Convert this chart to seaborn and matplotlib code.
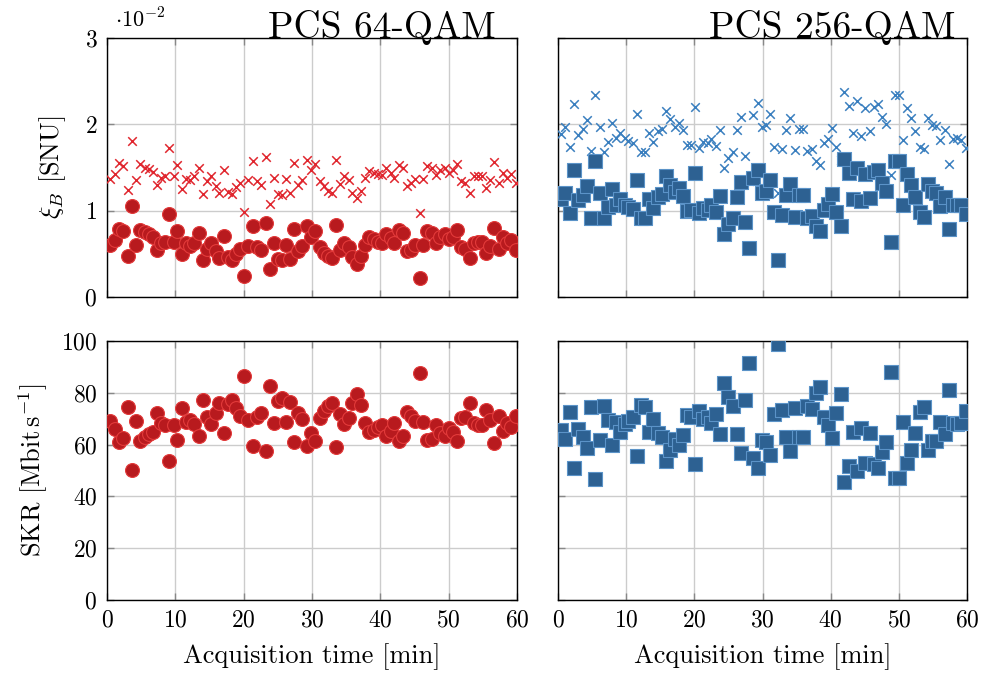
import numpy as np
import pandas as pd
import matplotlib
matplotlib.use('Agg')
import matplotlib.pyplot as plt
import seaborn as sns

# acquisition time of each block [min]
t_min = [0.5, 1.1, 1.8, 2.4, 3.0, 3.6, 4.2, 4.8, 5.5, 6.1, 6.7, 7.3, 7.9, 8.5, 9.1, 9.8,
         10.3, 11.0, 11.6, 12.2, 12.8, 13.4, 14.0, 14.6, 15.2, 15.9, 16.4, 17.1, 17.7, 18.3,
         18.9, 19.5, 20.1, 20.7, 21.3, 22.0, 22.5, 23.2, 23.8, 24.4, 25.0, 25.6, 26.2, 26.8,
         27.4, 28.0, 28.6, 29.3, 29.9, 30.5, 31.1, 31.7, 32.3, 32.9, 33.5, 34.1, 34.7, 35.4,
         35.9, 36.6, 37.2, 37.8, 38.4, 39.0, 39.6, 40.2, 40.8, 41.5, 42.0, 42.7, 43.3, 43.9,
         44.5, 45.1, 45.8, 46.3, 46.9, 47.6, 48.1, 48.8, 49.4, 50.0, 50.6, 51.2, 51.8, 52.4,
         53.1, 53.7, 54.3, 54.9, 55.5, 56.1, 56.7, 57.3, 58.0, 58.5, 59.1, 59.8]

# excess noise xi_B, units of 1e-2 SNU
xi64_cross = [1.37, 1.43, 1.55, 1.52, 1.24, 1.81, 1.36, 1.54, 1.50, 1.48, 1.45, 1.30, 1.38, 1.40,
              1.73, 1.40, 1.53, 1.25, 1.37, 1.36, 1.40, 1.49, 1.19, 1.34, 1.40, 1.29, 1.21, 1.47,
              1.22, 1.19, 1.27, 1.32, 0.99, 1.35, 1.58, 1.34, 1.30, 1.62, 1.08, 1.38, 1.19, 1.18,
              1.37, 1.20, 1.55, 1.30, 1.36, 1.59, 1.47, 1.54, 1.34, 1.28, 1.23, 1.21, 1.59, 1.31,
              1.40, 1.35, 1.21, 1.15, 1.23, 1.38, 1.46, 1.44, 1.42, 1.41, 1.49, 1.44, 1.38, 1.53,
              1.50, 1.29, 1.32, 1.37, 0.97, 1.37, 1.52, 1.50, 1.41, 1.47, 1.50, 1.44, 1.47, 1.54,
              1.34, 1.32, 1.21, 1.40, 1.40, 1.40, 1.26, 1.35, 1.56, 1.32, 1.44, 1.38, 1.42, 1.32]
xi64_dot = [0.60, 0.66, 0.79, 0.76, 0.48, 1.05, 0.60, 0.78, 0.75, 0.73, 0.70, 0.54, 0.62, 0.64,
            0.96, 0.64, 0.77, 0.50, 0.62, 0.59, 0.63, 0.74, 0.43, 0.56, 0.63, 0.53, 0.45, 0.71,
            0.46, 0.43, 0.50, 0.56, 0.24, 0.59, 0.82, 0.58, 0.55, 0.86, 0.32, 0.62, 0.44, 0.43,
            0.60, 0.44, 0.79, 0.53, 0.59, 0.82, 0.70, 0.77, 0.58, 0.51, 0.47, 0.45, 0.83, 0.55,
            0.63, 0.58, 0.46, 0.38, 0.48, 0.60, 0.69, 0.67, 0.64, 0.63, 0.73, 0.68, 0.62, 0.78,
            0.74, 0.53, 0.55, 0.60, 0.22, 0.60, 0.76, 0.74, 0.63, 0.70, 0.73, 0.67, 0.70, 0.78,
            0.58, 0.56, 0.45, 0.63, 0.64, 0.64, 0.51, 0.59, 0.80, 0.56, 0.69, 0.62, 0.66, 0.55]
xi256_cross = [1.89, 1.97, 1.74, 2.24, 1.88, 1.95, 2.05, 1.69, 2.34, 1.97, 1.68, 1.80, 2.02, 1.84,
               1.90, 1.84, 1.81, 1.78, 2.12, 1.68, 1.68, 1.90, 1.79, 1.92, 1.95, 2.16, 2.06, 1.97,
               2.02, 1.94, 1.76, 1.76, 2.20, 1.73, 1.79, 1.78, 1.83, 1.75, 1.94, 1.49, 1.61, 1.68,
               1.94, 2.09, 1.63, 1.34, 2.11, 2.25, 1.97, 1.99, 2.12, 1.74, 1.20, 1.72, 1.94, 2.07,
               1.70, 1.95, 1.95, 1.69, 1.72, 1.58, 1.53, 1.78, 1.83, 1.96, 1.74, 1.59, 2.37, 2.21,
               1.90, 2.27, 1.87, 2.19, 1.92, 2.20, 2.24, 2.09, 2.00, 1.41, 2.34, 2.34, 1.82, 2.19,
               2.07, 1.92, 1.74, 1.71, 2.07, 1.99, 1.98, 1.82, 1.94, 1.54, 1.83, 1.84, 1.82, 1.73]
xi256_sq = [1.13, 1.20, 0.97, 1.47, 1.12, 1.18, 1.29, 0.92, 1.57, 1.21, 0.91, 1.04, 1.25, 1.07,
            1.13, 1.06, 1.04, 1.02, 1.36, 0.91, 0.92, 1.14, 1.03, 1.16, 1.19, 1.40, 1.30, 1.22,
            1.26, 1.17, 1.00, 1.01, 1.44, 0.97, 1.03, 1.01, 1.07, 0.99, 1.17, 0.73, 0.84, 0.92,
            1.16, 1.33, 0.87, 0.57, 1.38, 1.47, 1.21, 1.23, 1.35, 0.98, 0.43, 0.95, 1.18, 1.31,
            0.93, 1.18, 1.18, 0.92, 0.94, 0.82, 0.77, 1.01, 1.08, 1.19, 0.98, 0.82, 1.60, 1.44,
            1.14, 1.50, 1.11, 1.43, 1.15, 1.45, 1.47, 1.32, 1.23, 0.64, 1.57, 1.57, 1.06, 1.43,
            1.30, 1.16, 0.98, 0.93, 1.31, 1.23, 1.21, 1.05, 1.16, 0.79, 1.06, 1.07, 1.07, 0.96]

# secret key rate [Mbit/s]
skr64 = [69.1, 66.0, 60.9, 62.4, 74.6, 50.1, 69.1, 61.4, 63.1, 64.0, 64.7, 72.1, 68.2, 67.6,
         53.7, 67.6, 61.6, 74.0, 68.6, 69.5, 67.8, 63.4, 77.1, 70.5, 67.8, 72.3, 75.9, 64.5,
         75.5, 77.2, 74.0, 71.0, 86.6, 69.5, 59.6, 70.5, 72.1, 57.7, 82.6, 68.5, 77.0, 77.9,
         68.9, 76.6, 60.9, 72.3, 69.8, 59.6, 64.6, 61.4, 70.4, 73.0, 74.9, 76.2, 58.9, 71.8,
         67.8, 70.1, 75.9, 79.4, 75.3, 68.5, 64.7, 65.6, 66.7, 67.6, 63.4, 65.4, 68.5, 61.4,
         63.3, 72.5, 71.0, 69.1, 87.8, 68.9, 61.8, 62.2, 67.6, 64.6, 63.4, 66.3, 64.7, 61.4,
         70.1, 70.8, 75.9, 68.2, 67.6, 67.6, 73.4, 69.5, 60.5, 71.0, 65.3, 68.2, 66.9, 71.0]
skr256 = [65.6, 62.0, 72.7, 50.8, 65.9, 63.1, 58.6, 74.6, 46.7, 61.8, 75.0, 69.5, 59.8, 68.6,
          65.0, 67.8, 69.1, 70.8, 55.6, 75.3, 74.6, 65.0, 69.8, 64.6, 62.8, 53.8, 57.9, 62.2,
          59.8, 63.7, 71.4, 70.8, 52.5, 73.0, 69.8, 70.8, 68.2, 71.7, 64.0, 83.7, 78.5, 74.9,
          64.0, 56.9, 77.2, 91.4, 55.0, 50.8, 61.8, 61.1, 56.0, 71.7, 98.7, 73.4, 63.1, 57.5,
          74.0, 63.1, 63.1, 74.9, 73.7, 79.8, 82.1, 70.8, 67.6, 62.4, 72.1, 79.5, 45.7, 51.9,
          65.0, 49.8, 66.5, 52.8, 64.6, 52.4, 50.8, 57.3, 61.1, 88.2, 47.0, 47.0, 68.9, 52.8,
          57.9, 64.4, 72.5, 74.4, 57.9, 61.5, 61.4, 68.9, 64.1, 81.1, 68.2, 67.8, 68.2, 73.0]

titles = ['PCS 64-QAM', 'PCS 256-QAM']

df = pd.DataFrame({'t': t_min, 'xi64c': xi64_cross, 'xi64d': xi64_dot,
                   'xi256c': xi256_cross, 'xi256s': xi256_sq,
                   'skr64': skr64, 'skr256': skr256})

sns.set_theme(style='whitegrid')
plt.rcParams['font.family'] = ['cmr10', 'DejaVu Serif']
plt.rcParams['mathtext.fontset'] = 'cm'
plt.rcParams['axes.formatter.use_mathtext'] = True
plt.rcParams['axes.unicode_minus'] = False
plt.rcParams['text.color'] = 'black'
plt.rcParams['axes.labelcolor'] = 'black'

red_fill, red_edge, red_x = '#b81a1e', '#e23a3a', '#e0262e'
blue_fill, blue_edge, blue_x = '#2d6192', '#5b93c8', '#3a7fbf'

fig = plt.figure(figsize=(9.83, 6.77), dpi=100)
W, H = 983, 677
def add(x0, y0, x1, y1):
    return fig.add_axes([x0 / W, 1 - y1 / H, (x1 - x0) / W, (y1 - y0) / H])

ax_tl = add(107, 38, 517, 297)
ax_tr = add(558, 38, 967, 297)
ax_bl = add(107, 341, 517, 600)
ax_br = add(558, 341, 967, 600)

sns.scatterplot(data=df, x='t', y='xi64c', ax=ax_tl, marker='x', s=38, color=red_x,
                linewidth=1.1, zorder=3)
sns.scatterplot(data=df, x='t', y='xi64d', ax=ax_tl, marker='o', s=100, color=red_fill,
                edgecolor=red_edge, linewidth=0.8, zorder=3)
sns.scatterplot(data=df, x='t', y='xi256c', ax=ax_tr, marker='x', s=38, color=blue_x,
                linewidth=1.1, zorder=3)
sns.scatterplot(data=df, x='t', y='xi256s', ax=ax_tr, marker='s', s=88, color=blue_fill,
                edgecolor=blue_edge, linewidth=0.8, zorder=3)
sns.scatterplot(data=df, x='t', y='skr64', ax=ax_bl, marker='o', s=100, color=red_fill,
                edgecolor=red_edge, linewidth=0.8, zorder=3)
sns.scatterplot(data=df, x='t', y='skr256', ax=ax_br, marker='s', s=88, color=blue_fill,
                edgecolor=blue_edge, linewidth=0.8, zorder=3)

for ax in [ax_tl, ax_tr, ax_bl, ax_br]:
    ax.set_facecolor('white')
    ax.set_xlim(0, 60)
    ax.set_xticks(range(0, 61, 10))
    ax.grid(True, color='#cccccc', linewidth=1.0)
    ax.set_axisbelow(True)
    for sp in ax.spines.values():
        sp.set_color('black')
        sp.set_linewidth(1.0)
    ax.tick_params(direction='in', length=5, width=1, color='#888888',
                   top=True, right=True, bottom=True, left=True, labelsize=17, pad=7,
                   labelcolor='black')
    ax.set_xlabel('')
    ax.set_ylabel('')

for ax in [ax_tl, ax_tr]:
    ax.set_ylim(0, 3)
    ax.set_yticks([0, 1, 2, 3])
    ax.tick_params(labelbottom=False)
for ax in [ax_bl, ax_br]:
    ax.set_ylim(0, 100)
    ax.set_yticks(range(0, 101, 20))
    ax.set_xlabel('Acquisition time [min]', fontsize=19, labelpad=8)
for ax in [ax_tr, ax_br]:
    ax.tick_params(labelleft=False)

ax_tl.set_ylabel(r'$\xi_B$ [SNU]', fontsize=19, labelpad=12)
ax_bl.set_ylabel(r'SKR [Mbit$\,$s$^{-1}$]', fontsize=19, labelpad=8)
ax_tl.text(0.02, 1.025, r'$\cdot 10^{-2}$', transform=ax_tl.transAxes, fontsize=16,
           ha='left', va='bottom')

for ax, title in zip([ax_tl, ax_tr], titles):
    ax.text(0.67, 1.0, title, transform=ax.transAxes, fontsize=27, ha='center',
            va='baseline', zorder=5)

fig.savefig('out.png', dpi=100)
